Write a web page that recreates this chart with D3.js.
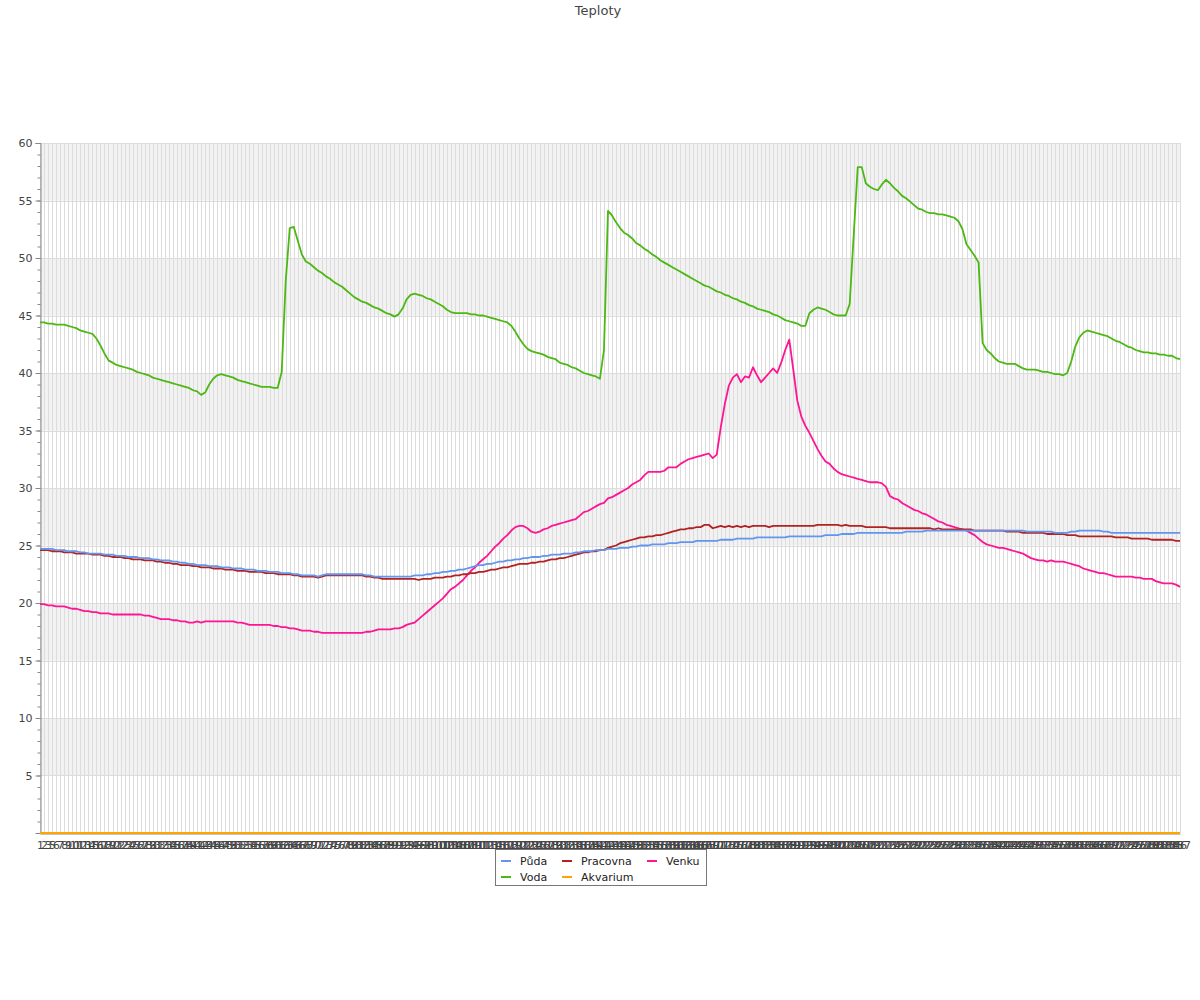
<!DOCTYPE html>
<html><head><meta charset="utf-8">
<script src="https://cdn.jsdelivr.net/npm/d3@7"></script>
<style>body{margin:0;background:#fff;font-family:"DejaVu Sans",sans-serif;}</style>
</head><body><div id="chart"></div>
<script>
const title = "Teploty";
const seriesNames = ["Půda","Voda","Pracovna","Akvarium","Venku"];
const seriesColors = ["#6495ed","#4cb814","#b22222","#ffa500","#ff1493"];
const yTicks = [5,10,15,20,25,30,35,40,45,50,55,60];

const puda = [
24.7,24.7,24.7,24.7,24.6,24.6,24.6,24.5,24.5,24.5,
24.4,24.4,24.3,24.3,24.3,24.3,24.2,24.2,24.2,24.1,
24.1,24.1,24.0,24.0,24.0,23.9,23.9,23.9,23.8,23.8,
23.7,23.7,23.7,23.6,23.6,23.5,23.5,23.4,23.4,23.3,
23.3,23.3,23.2,23.2,23.2,23.1,23.1,23.1,23.0,23.0,
23.0,22.9,22.9,22.9,22.8,22.8,22.8,22.7,22.7,22.7,
22.6,22.6,22.6,22.5,22.5,22.4,22.4,22.4,22.4,22.3,
22.4,22.5,22.5,22.5,22.5,22.5,22.5,22.5,22.5,22.5,
22.5,22.4,22.4,22.3,22.3,22.3,22.3,22.3,22.3,22.3,
22.3,22.3,22.3,22.4,22.4,22.4,22.5,22.5,22.6,22.6,
22.7,22.7,22.8,22.8,22.9,22.9,23.0,23.1,23.2,23.3,
23.3,23.4,23.4,23.5,23.6,23.6,23.7,23.7,23.8,23.8,
23.9,23.9,24.0,24.0,24.0,24.1,24.1,24.2,24.2,24.2,
24.3,24.3,24.3,24.4,24.4,24.5,24.5,24.5,24.6,24.6,
24.6,24.7,24.7,24.7,24.8,24.8,24.8,24.9,24.9,25.0,
25.0,25.0,25.1,25.1,25.1,25.1,25.2,25.2,25.2,25.3,
25.3,25.3,25.3,25.4,25.4,25.4,25.4,25.4,25.4,25.5,
25.5,25.5,25.5,25.6,25.6,25.6,25.6,25.6,25.7,25.7,
25.7,25.7,25.7,25.7,25.7,25.7,25.8,25.8,25.8,25.8,
25.8,25.8,25.8,25.8,25.8,25.9,25.9,25.9,25.9,26.0,
26.0,26.0,26.0,26.1,26.1,26.1,26.1,26.1,26.1,26.1,
26.1,26.1,26.1,26.1,26.1,26.2,26.2,26.2,26.2,26.2,
26.3,26.3,26.3,26.3,26.3,26.3,26.3,26.3,26.3,26.3,
26.3,26.3,26.3,26.3,26.3,26.3,26.3,26.3,26.3,26.3,
26.3,26.3,26.3,26.3,26.3,26.2,26.2,26.2,26.2,26.2,
26.2,26.2,26.1,26.1,26.1,26.1,26.2,26.2,26.3,26.3,
26.3,26.3,26.3,26.3,26.2,26.2,26.1,26.1,26.1,26.1,
26.1,26.1,26.1,26.1,26.1,26.1,26.1,26.1,26.1,26.1,
26.1,26.1,26.1,26.1];

const voda = [
44.4,44.4,44.3,44.3,44.2,44.2,44.2,44.1,44.0,43.9,
43.7,43.6,43.5,43.4,43.0,42.4,41.7,41.1,40.9,40.7,
40.6,40.5,40.4,40.3,40.1,40.0,39.9,39.8,39.6,39.5,
39.4,39.3,39.2,39.1,39.0,38.9,38.8,38.7,38.5,38.4,
38.1,38.3,39.0,39.5,39.8,39.9,39.8,39.7,39.6,39.4,
39.3,39.2,39.1,39.0,38.9,38.8,38.8,38.8,38.7,38.7,
40.1,48.0,52.6,52.7,51.5,50.3,49.7,49.5,49.2,48.9,
48.7,48.4,48.2,47.9,47.7,47.5,47.2,46.9,46.6,46.4,
46.2,46.1,45.9,45.7,45.6,45.4,45.2,45.1,44.9,45.1,
45.6,46.4,46.8,46.9,46.8,46.7,46.5,46.4,46.2,46.0,
45.8,45.5,45.3,45.2,45.2,45.2,45.2,45.1,45.1,45.0,
45.0,44.9,44.8,44.7,44.6,44.5,44.4,44.1,43.6,43.0,
42.5,42.1,41.9,41.8,41.7,41.6,41.4,41.3,41.2,40.9,
40.8,40.7,40.5,40.4,40.2,40.0,39.9,39.8,39.7,39.5,
42.0,54.1,53.7,53.1,52.6,52.2,52.0,51.7,51.3,51.1,
50.8,50.6,50.3,50.1,49.8,49.6,49.4,49.2,49.0,48.8,
48.6,48.4,48.2,48.0,47.8,47.6,47.5,47.3,47.1,47.0,
46.8,46.7,46.5,46.4,46.2,46.1,45.9,45.8,45.6,45.5,
45.4,45.3,45.1,45.0,44.8,44.6,44.5,44.4,44.3,44.1,
44.1,45.2,45.5,45.7,45.6,45.5,45.3,45.1,45.0,45.0,
45.0,46.0,52.0,57.9,57.9,56.5,56.2,56.0,55.9,56.4,
56.8,56.5,56.1,55.8,55.4,55.2,54.9,54.6,54.3,54.2,
54.0,53.9,53.9,53.8,53.8,53.7,53.6,53.5,53.2,52.5,
51.2,50.7,50.2,49.6,42.6,42.0,41.7,41.3,41.0,40.9,
40.8,40.8,40.8,40.6,40.4,40.3,40.3,40.3,40.2,40.1,
40.1,40.0,39.9,39.9,39.8,40.0,41.0,42.3,43.1,43.5,
43.7,43.6,43.5,43.4,43.3,43.2,43.0,42.8,42.7,42.5,
42.3,42.2,42.0,41.9,41.8,41.8,41.7,41.7,41.6,41.6,
41.5,41.5,41.3,41.2];

const pracovna = [
24.6,24.6,24.6,24.5,24.5,24.5,24.4,24.4,24.4,24.3,
24.3,24.3,24.3,24.2,24.2,24.2,24.1,24.1,24.0,24.0,
24.0,23.9,23.9,23.8,23.8,23.8,23.7,23.7,23.7,23.6,
23.6,23.5,23.5,23.4,23.4,23.3,23.3,23.3,23.2,23.2,
23.1,23.1,23.1,23.0,23.0,23.0,22.9,22.9,22.9,22.8,
22.8,22.8,22.7,22.7,22.7,22.7,22.6,22.6,22.6,22.5,
22.5,22.5,22.5,22.4,22.4,22.3,22.3,22.3,22.3,22.2,
22.3,22.4,22.4,22.4,22.4,22.4,22.4,22.4,22.4,22.4,
22.4,22.3,22.3,22.2,22.2,22.1,22.1,22.1,22.1,22.1,
22.1,22.1,22.1,22.1,22.0,22.1,22.1,22.1,22.2,22.2,
22.2,22.3,22.3,22.4,22.4,22.5,22.5,22.6,22.6,22.7,
22.7,22.8,22.9,22.9,23.0,23.1,23.1,23.2,23.3,23.4,
23.4,23.4,23.5,23.5,23.6,23.6,23.7,23.8,23.8,23.9,
23.9,24.0,24.1,24.2,24.3,24.4,24.4,24.5,24.5,24.6,
24.6,24.8,24.9,25.0,25.2,25.3,25.4,25.5,25.6,25.7,
25.7,25.8,25.8,25.9,25.9,26.0,26.1,26.2,26.3,26.4,
26.4,26.5,26.5,26.6,26.6,26.8,26.8,26.5,26.6,26.7,
26.6,26.7,26.6,26.7,26.6,26.7,26.6,26.7,26.7,26.7,
26.7,26.6,26.7,26.7,26.7,26.7,26.7,26.7,26.7,26.7,
26.7,26.7,26.7,26.8,26.8,26.8,26.8,26.8,26.8,26.7,
26.8,26.7,26.7,26.7,26.7,26.6,26.6,26.6,26.6,26.6,
26.6,26.5,26.5,26.5,26.5,26.5,26.5,26.5,26.5,26.5,
26.5,26.5,26.4,26.5,26.4,26.4,26.4,26.4,26.4,26.4,
26.4,26.4,26.3,26.3,26.3,26.3,26.3,26.3,26.3,26.3,
26.2,26.2,26.2,26.2,26.1,26.1,26.1,26.1,26.1,26.1,
26.0,26.0,26.0,26.0,26.0,25.9,25.9,25.9,25.8,25.8,
25.8,25.8,25.8,25.8,25.8,25.8,25.8,25.7,25.7,25.7,
25.7,25.6,25.6,25.6,25.6,25.6,25.5,25.5,25.5,25.5,
25.5,25.5,25.4,25.4];

const akvarium = [
0,0,0,0,0,0,0,0,0,0, 0,0,0,0,0,0,0,0,0,0, 0,0,0,0,0,0,0,0,0,0,
0,0,0,0,0,0,0,0,0,0, 0,0,0,0,0,0,0,0,0,0, 0,0,0,0,0,0,0,0,0,0,
0,0,0,0,0,0,0,0,0,0, 0,0,0,0,0,0,0,0,0,0, 0,0,0,0,0,0,0,0,0,0,
0,0,0,0,0,0,0,0,0,0, 0,0,0,0,0,0,0,0,0,0, 0,0,0,0,0,0,0,0,0,0,
0,0,0,0,0,0,0,0,0,0, 0,0,0,0,0,0,0,0,0,0, 0,0,0,0,0,0,0,0,0,0,
0,0,0,0,0,0,0,0,0,0, 0,0,0,0,0,0,0,0,0,0, 0,0,0,0,0,0,0,0,0,0,
0,0,0,0,0,0,0,0,0,0, 0,0,0,0,0,0,0,0,0,0, 0,0,0,0,0,0,0,0,0,0,
0,0,0,0,0,0,0,0,0,0, 0,0,0,0,0,0,0,0,0,0, 0,0,0,0,0,0,0,0,0,0,
0,0,0,0,0,0,0,0,0,0, 0,0,0,0,0,0,0,0,0,0, 0,0,0,0,0,0,0,0,0,0,
0,0,0,0,0,0,0,0,0,0,
0,0,0,0];

const venku = [
19.9,19.9,19.8,19.8,19.7,19.7,19.7,19.6,19.5,19.5,
19.4,19.3,19.3,19.2,19.2,19.1,19.1,19.1,19.0,19.0,
19.0,19.0,19.0,19.0,19.0,19.0,18.9,18.9,18.8,18.7,
18.6,18.6,18.6,18.5,18.5,18.4,18.4,18.3,18.3,18.4,
18.3,18.4,18.4,18.4,18.4,18.4,18.4,18.4,18.4,18.3,
18.3,18.2,18.1,18.1,18.1,18.1,18.1,18.1,18.0,18.0,
17.9,17.9,17.8,17.8,17.7,17.6,17.6,17.6,17.5,17.5,
17.4,17.4,17.4,17.4,17.4,17.4,17.4,17.4,17.4,17.4,
17.4,17.5,17.5,17.6,17.7,17.7,17.7,17.7,17.8,17.8,
17.9,18.1,18.2,18.3,18.6,18.9,19.2,19.5,19.8,20.1,
20.4,20.8,21.2,21.4,21.7,22.0,22.4,22.8,23.1,23.5,
23.8,24.1,24.5,24.9,25.2,25.6,25.9,26.3,26.6,26.7,
26.7,26.5,26.2,26.1,26.2,26.4,26.5,26.7,26.8,26.9,
27.0,27.1,27.2,27.3,27.6,27.9,28.0,28.2,28.4,28.6,
28.7,29.1,29.2,29.4,29.6,29.8,30.0,30.3,30.5,30.7,
31.1,31.4,31.4,31.4,31.4,31.5,31.8,31.8,31.8,32.1,
32.3,32.5,32.6,32.7,32.8,32.9,33.0,32.6,32.9,35.3,
37.3,38.9,39.6,39.9,39.2,39.7,39.6,40.5,39.8,39.2,
39.6,40.0,40.4,40.0,40.9,42.0,42.9,40.3,37.6,36.2,
35.4,34.8,34.1,33.4,32.8,32.3,32.1,31.7,31.4,31.2,
31.1,31.0,30.9,30.8,30.7,30.6,30.5,30.5,30.5,30.4,
30.1,29.3,29.1,29.0,28.7,28.5,28.3,28.1,28.0,27.8,
27.7,27.5,27.3,27.1,27.0,26.8,26.7,26.6,26.5,26.4,
26.3,26.1,25.9,25.6,25.3,25.1,25.0,24.9,24.8,24.8,
24.7,24.6,24.5,24.4,24.3,24.1,23.9,23.8,23.7,23.7,
23.6,23.7,23.6,23.6,23.6,23.5,23.4,23.3,23.2,23.0,
22.9,22.8,22.7,22.6,22.6,22.5,22.4,22.3,22.3,22.3,
22.3,22.3,22.2,22.2,22.1,22.1,22.1,21.9,21.8,21.7,
21.7,21.7,21.6,21.4];

// category labels (record numbers along the x axis)
const xLabels = d3.range(1, 288).filter(d => d !== 4 && d !== 150 && d !== 250).map(String);

const seriesData = [puda, voda, pracovna, akvarium, venku];

const W = 1200, H = 1000;
const M = {left: 40, right: 20, top: 143, bottom: 167};
const svg = d3.select("#chart").append("svg").attr("width", W).attr("height", H)
  .style("font-family", '"DejaVu Sans", sans-serif');

const x = d3.scalePoint().domain(xLabels).range([M.left, W - M.right]);
const y = d3.scaleLinear().domain([0, 60]).range([H - M.bottom, M.top]);

svg.append("text").attr("x", 598).attr("y", 15).attr("text-anchor", "middle")
  .attr("font-size", 13).attr("fill", "#444").text(title);

// alternating bands
const bands = [5, 15, 25, 35, 45, 55];
svg.append("g").selectAll("rect").data(bands).join("rect")
  .attr("x", M.left).attr("width", W - M.right - M.left)
  .attr("y", d => y(d + 5)).attr("height", d => y(d) - y(d + 5))
  .attr("fill", "#f2f2f2");

// vertical grid
svg.append("g").selectAll("line").data(xLabels).join("line")
  .attr("x1", d => Math.round(x(d)) + 0.5).attr("x2", d => Math.round(x(d)) + 0.5)
  .attr("y1", y(60)).attr("y2", y(0))
  .attr("stroke", "#dcdcdc").attr("stroke-width", 1);

// horizontal grid
svg.append("g").selectAll("line").data(yTicks).join("line")
  .attr("x1", M.left).attr("x2", W - M.right)
  .attr("y1", d => Math.round(y(d)) + 0.5).attr("y2", d => Math.round(y(d)) + 0.5)
  .attr("stroke", "#dcdcdc");

// y axis
const yAxis = d3.axisLeft(y).tickValues(yTicks).tickSize(5).tickPadding(3);
const yMinor = d3.axisLeft(y).ticks(60).tickSize(3).tickFormat("");
svg.append("g").attr("transform", `translate(${M.left + 0.5},0)`).call(yMinor)
  .call(g => g.select(".domain").remove())
  .call(g => g.selectAll("line").attr("stroke", "#888"));
svg.append("g").attr("transform", `translate(${M.left + 0.5},0)`).call(yAxis)
  .call(g => g.select(".domain").attr("stroke", "#888"))
  .call(g => g.selectAll("line").attr("stroke", "#888"))
  .call(g => g.selectAll("text").attr("font-size", 11).attr("fill", "#444")
    .attr("font-family", '"DejaVu Sans", sans-serif'));

// x axis
const xAxis = d3.axisBottom(x).tickSize(0).tickPadding(8);
svg.append("g").attr("transform", `translate(0,${Math.round(y(0)) + 0.5})`).call(xAxis)
  .call(g => g.select(".domain").attr("stroke", "#888"))
  .call(g => g.selectAll("text").attr("font-size", 11).attr("fill", "#444")
    .attr("font-family", '"DejaVu Sans", sans-serif'));

// lines
const line = d3.line().x((d, i) => x(xLabels[i])).y(d => y(d));
const order = [4, 2, 0, 1, 3];
svg.append("g").selectAll("path").data(order).join("path")
  .attr("d", k => line(seriesData[k]))
  .attr("fill", "none").attr("stroke", k => seriesColors[k])
  .attr("stroke-width", 1.8).attr("stroke-linejoin", "round");

// legend
const lg = svg.append("g");
lg.append("rect").attr("x", 495.5).attr("y", 849.5).attr("width", 211).attr("height", 36)
  .attr("fill", "#fff").attr("stroke", "#777");
const legPos = [[501, 861], [501, 877], [562, 861], [562, 877], [647, 861]];
seriesNames.forEach((n, k) => {
  const [lx, ly] = legPos[k];
  lg.append("line").attr("x1", lx).attr("x2", lx + 10).attr("y1", ly).attr("y2", ly)
    .attr("stroke", seriesColors[k]).attr("stroke-width", 2);
  lg.append("text").attr("x", lx + 19).attr("y", ly + 4).attr("font-size", 11)
    .attr("fill", "#222").text(n);
});
</script></body></html>
